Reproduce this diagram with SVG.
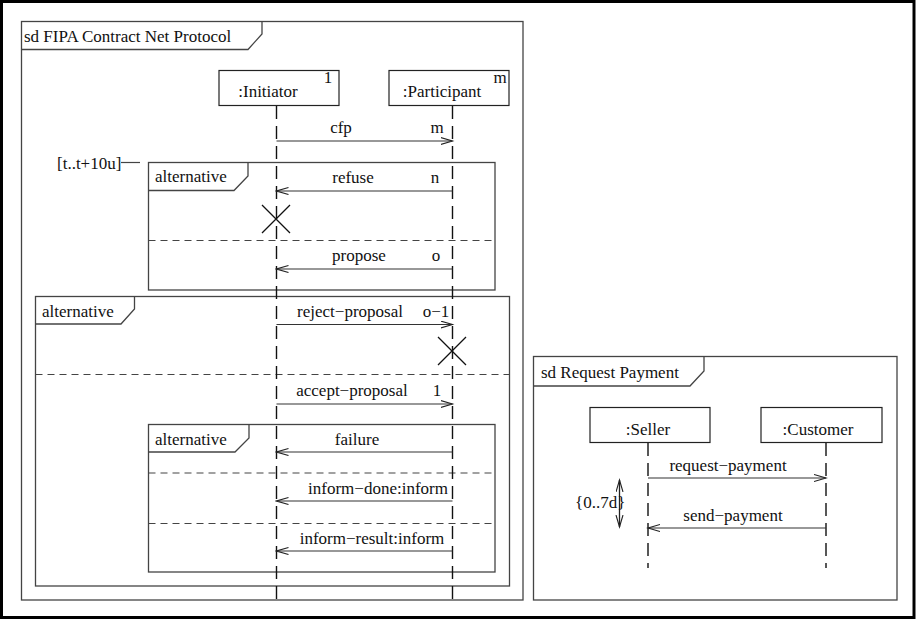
<svg xmlns="http://www.w3.org/2000/svg" width="916" height="619" viewBox="0 0 916 619" font-family="'Liberation Serif', 'Times New Roman', serif">
<defs>
<marker id="open" markerUnits="userSpaceOnUse" markerWidth="14" markerHeight="10" refX="12" refY="4" orient="auto-start-reverse">
<path d="M0,0.5 L12,4 L0,7.5" fill="none" stroke="#222" stroke-width="1.1"/>
</marker>
</defs>
<style>
text{font-family:'Liberation Serif','Times New Roman',serif;font-size:17px;fill:#111}
.mid{text-anchor:middle}
.frame{fill:none;stroke:#444;stroke-width:1.3}
.box{fill:#fff;stroke:#222;stroke-width:1.2}
.life{stroke:#111;stroke-width:1.4;stroke-dasharray:13,7;fill:none}
.sep{stroke:#444;stroke-width:1.2;stroke-dasharray:7,5;fill:none}
.msg{stroke:#333;stroke-width:1.2;fill:none;marker-end:url(#open)}
.x{stroke:#111;stroke-width:1.3}
</style>
<rect x="1.5" y="1.5" width="912.5" height="616" fill="#fff" stroke="#000" stroke-width="3"/>

<g id="frame-fipa">
<rect class="frame" x="21.5" y="21.5" width="501.5" height="578.5"/>
<path class="frame" d="M21.5,49.5 H248 L262,34 V21.5"/>
<text x="24" y="42">sd FIPA Contract Net Protocol</text>
</g>

<g id="frame-payment">
<rect class="frame" x="533.5" y="356.5" width="363.5" height="243.5"/>
<path class="frame" d="M533.5,386 H690 L704,371 V356.5"/>
<text x="541" y="378">sd Request Payment</text>
</g>

<g id="alt1">
<rect class="frame" x="148.5" y="162.5" width="346.5" height="127.5"/>
<path class="frame" d="M148.5,190.5 H234 L248,176 V162.5"/>
<text x="155" y="182">alternative</text>
<line class="sep" x1="148.5" y1="240.5" x2="495" y2="240.5"/>
</g>

<g id="alt2">
<rect class="frame" x="35.5" y="296.5" width="474" height="289.5"/>
<path class="frame" d="M35.5,324 H121 L134.5,309 V296.5"/>
<text x="42" y="317">alternative</text>
<line class="sep" x1="35.5" y1="374.5" x2="509.5" y2="374.5"/>
</g>

<g id="alt3">
<rect class="frame" x="148.5" y="424.5" width="346.5" height="147.5"/>
<path class="frame" d="M148.5,452 H235 L249,438 V424.5"/>
<text x="155" y="445">alternative</text>
<line class="sep" x1="148.5" y1="473" x2="495" y2="473"/>
<line class="sep" x1="148.5" y1="523.5" x2="495" y2="523.5"/>
</g>

<g id="timing">
<text x="57" y="169">[t..t+10u]</text>
<line x1="121" y1="162.5" x2="140" y2="162.5" stroke="#444" stroke-width="1.2"/>
</g>

<g id="initiator">
<rect class="box" x="219" y="70.5" width="120" height="35"/>
<text class="mid" x="268" y="97">:Initiator</text>
<text class="mid" x="328" y="83">1</text>
<line class="life" x1="276.5" y1="106" x2="276.5" y2="600"/>
</g>

<g id="participant">
<rect class="box" x="389" y="70.5" width="120" height="35"/>
<text class="mid" x="442" y="97">:Participant</text>
<text class="mid" x="500" y="83">m</text>
<line class="life" x1="452.5" y1="106" x2="452.5" y2="600"/>
</g>

<g id="seller">
<rect class="box" x="590" y="407.5" width="120" height="35"/>
<text class="mid" x="648" y="435">:Seller</text>
<line class="life" x1="648" y1="443" x2="648" y2="568"/>
</g>

<g id="customer">
<rect class="box" x="761" y="407.5" width="121" height="35"/>
<text class="mid" x="818" y="435">:Customer</text>
<line class="life" x1="826" y1="443" x2="826" y2="568"/>
</g>

<g id="destroy">
<path class="x" d="M262,205 L290,233 M290,205 L262,233"/>
<path class="x" d="M438,337 L466,365 M466,337 L438,365"/>
</g>

<g id="connectors">
<line class="msg" x1="276.5" y1="141" x2="452.5" y2="141"/>
<text class="mid" x="341" y="133">cfp</text>
<text class="mid" x="437" y="133">m</text>

<line class="msg" x1="452.5" y1="191" x2="276.5" y2="191"/>
<text class="mid" x="353" y="183">refuse</text>
<text class="mid" x="435" y="183">n</text>

<line class="msg" x1="452.5" y1="269" x2="276.5" y2="269"/>
<text class="mid" x="359" y="261">propose</text>
<text class="mid" x="436" y="261">o</text>

<line class="msg" x1="276.5" y1="324.5" x2="452.5" y2="324.5"/>
<text class="mid" x="350" y="317">reject−proposal</text>
<text class="mid" x="436" y="317">o−1</text>

<line class="msg" x1="276.5" y1="404" x2="452.5" y2="404"/>
<text class="mid" x="352" y="396">accept−proposal</text>
<text class="mid" x="437" y="396">1</text>

<line class="msg" x1="452.5" y1="452" x2="276.5" y2="452"/>
<text class="mid" x="357" y="445">failure</text>

<line class="msg" x1="452.5" y1="501" x2="276.5" y2="501"/>
<text class="mid" x="378" y="494">inform−done:inform</text>

<line class="msg" x1="452.5" y1="551" x2="276.5" y2="551"/>
<text class="mid" x="372" y="544">inform−result:inform</text>

<line class="msg" x1="648" y1="478" x2="826" y2="478"/>
<text class="mid" x="728" y="471">request−payment</text>

<line class="msg" x1="826" y1="528" x2="648" y2="528"/>
<text class="mid" x="733" y="521">send−payment</text>

<line x1="619.5" y1="480" x2="619.5" y2="527" stroke="#222" stroke-width="1.3" marker-start="url(#open)" marker-end="url(#open)"/>
<text x="575" y="508">{0..7d}</text>
</g>
</svg>
